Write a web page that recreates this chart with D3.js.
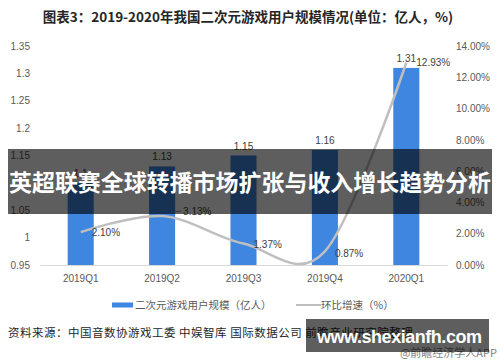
<!DOCTYPE html>
<html>
<head>
<meta charset="utf-8">
<script src="https://cdn.jsdelivr.net/npm/d3@7/dist/d3.min.js"></script>
<style>
  html, body { margin: 0; padding: 0; background: #fff; }
  svg { display: block; font-family: "Liberation Sans", "Noto Sans CJK SC", sans-serif; }
</style>
</head>
<body>
<div id="chart"></div>
<script>
// data
var quarters = ["2019Q1", "2019Q2", "2019Q3", "2019Q4", "2020Q1"];
var users = [1.1, 1.13, 1.15, 1.16, 1.31];          // 亿人
var growth = [2.10, 3.13, 1.37, 0.87, 12.93];       // %
var leftTicks = [0.95, 1, 1.05, 1.1, 1.15, 1.2, 1.25, 1.3, 1.35];
var rightTicks = [0, 2, 4, 6, 8, 10, 12, 14];

var width = 500, height = 362;
var svg = d3.select("#chart").append("svg")
    .attr("width", width)
    .attr("height", height);

var x = d3.scaleBand().domain(quarters).range([40, 447]).paddingInner(0.68).paddingOuter(0.34);
var yL = d3.scaleLinear().domain([0.95, 1.35]).range([265, 46]);
var yR = d3.scaleLinear().domain([0, 14]).range([265, 46]);

// title
svg.append("text")
    .attr("x", 248).attr("y", 22)
    .attr("text-anchor", "middle")
    .style("font-family", "'Noto Sans CJK SC', sans-serif")
    .style("font-weight", "bold")
    .style("font-size", "13.5px")
    .style("fill", "#262626")
    .text("图表3：2019-2020年我国二次元游戏用户规模情况(单位：亿人，%)");

// left axis
var axL = svg.append("g").attr("transform", "translate(32,0)")
    .call(d3.axisLeft(yL).tickValues(leftTicks).tickSize(0).tickPadding(2)
        .tickFormat(function (d) { return +d.toFixed(2); }));
axL.select(".domain").remove();
axL.selectAll("text").style("font-size", "10px").style("fill", "#595959")
    .style("font-family", "'Liberation Sans', sans-serif");

// right axis
var axR = svg.append("g").attr("transform", "translate(454,0)")
    .call(d3.axisRight(yR).tickValues(rightTicks).tickSize(0).tickPadding(2)
        .tickFormat(function (d) { return d.toFixed(2) + "%"; }));
axR.select(".domain").remove();
axR.selectAll("text").style("font-size", "10px").style("fill", "#595959")
    .style("font-family", "'Liberation Sans', sans-serif");

// bottom axis
var axB = svg.append("g").attr("transform", "translate(0,265)")
    .call(d3.axisBottom(x).tickSize(0).tickPadding(10));
axB.select(".domain").attr("stroke", "#d9d9d9");
axB.selectAll("text").style("font-size", "10px").style("fill", "#595959")
    .style("font-family", "'Liberation Sans', sans-serif");

// bars
svg.selectAll(".bar")
    .data(users)
    .enter().append("rect")
    .attr("class", "bar")
    .attr("x", function (d, i) { return x(quarters[i]); })
    .attr("width", x.bandwidth())
    .attr("y", function (d) { return yL(d); })
    .attr("height", function (d) { return yL(0.95) - yL(d); })
    .style("fill", "#3f86e0");

svg.selectAll(".barLabel")
    .data(users)
    .enter().append("text")
    .attr("class", "barLabel")
    .attr("x", function (d, i) { return x(quarters[i]) + x.bandwidth() / 2; })
    .attr("y", function (d) { return yL(d) - 6; })
    .attr("text-anchor", "middle")
    .style("font-size", "10px")
    .style("fill", "#404040")
    .text(function (d) { return d; });

// growth line
var pts = growth.map(function (d, i) {
    return [x(quarters[i]) + x.bandwidth() / 2, yR(d)];
});
svg.append("path")
    .datum(pts)
    .attr("d", d3.line().curve(d3.curveCatmullRom.alpha(0)))
    .style("fill", "none")
    .style("stroke", "#bfbfbf")
    .style("stroke-width", 2.5);

var lblOff = [[11, 0], [21, -5], [10, 1], [10, 2], [10, 0]];
svg.selectAll(".lineLabel")
    .data(growth)
    .enter().append("text")
    .attr("class", "lineLabel")
    .attr("x", function (d, i) { return pts[i][0] + lblOff[i][0]; })
    .attr("y", function (d, i) { return pts[i][1] + lblOff[i][1] + 3.5; })
    .style("font-size", "10px")
    .style("fill", "#404040")
    .text(function (d) { return d.toFixed(2) + "%"; });
// leader for 3.13%
svg.append("line")
    .attr("x1", pts[1][0] + 12).attr("y1", pts[1][1] - 4)
    .attr("x2", pts[1][0] + 19).attr("y2", pts[1][1] - 5)
    .style("stroke", "#7f7f7f").style("stroke-width", 0.8);

// legend
var lg = svg.append("g").style("font-family", "'Noto Sans CJK SC', sans-serif")
    .style("font-size", "10.5px").style("fill", "#595959");
lg.append("rect").attr("x", 112).attr("y", 302.5).attr("width", 21).attr("height", 5).style("fill", "#3f86e0");
lg.append("text").attr("x", 135).attr("y", 309).text("二次元游戏用户规模（亿人）");
lg.append("line").attr("x1", 296).attr("x2", 321).attr("y1", 305).attr("y2", 305)
    .style("stroke", "#bfbfbf").style("stroke-width", 2);
lg.append("text").attr("x", 321).attr("y", 309).text("环比增速（%）");

// source
svg.append("text")
    .attr("x", 8).attr("y", 337)
    .style("font-family", "'Noto Sans CJK SC', sans-serif")
    .style("font-size", "11.5px")
    .style("letter-spacing", "0.5px")
    .style("fill", "#262626")
    .text("资料来源：中国音数协游戏工委 中娱智库 国际数据公司 前瞻产业研究院整理");
svg.append("text")
    .attr("x", 497).attr("y", 357)
    .attr("text-anchor", "end")
    .style("font-family", "'Noto Sans CJK SC', sans-serif")
    .style("font-size", "11px")
    .style("fill", "#7f7f7f")
    .text("@前瞻经济学人APP");

// overlay banner
svg.append("rect").attr("x", 8).attr("y", 149).attr("width", 484).attr("height", 65)
    .style("fill", "rgba(0,0,0,0.63)");
svg.append("text")
    .attr("x", 9).attr("y", 191)
    .attr("textLength", 482)
    .attr("lengthAdjust", "spacingAndGlyphs")
    .style("font-family", "'Noto Sans CJK SC', sans-serif")
    .style("font-weight", "bold")
    .style("font-size", "23px")
    .style("fill", "#fff")
    .text("英超联赛全球转播市场扩张与收入增长趋势分析");

// bottom-right overlay
svg.append("rect").attr("x", 306).attr("y", 319).attr("width", 183).attr("height", 33)
    .style("fill", "rgba(0,0,0,0.63)");
svg.append("text")
    .attr("x", 317).attr("y", 343)
    .attr("textLength", 165)
    .style("font-family", "'Liberation Sans', sans-serif")
    .style("font-weight", "bold")
    .style("font-size", "18px")
    .style("fill", "#fff")
    .text("www.shexianfh.com");
</script>
</body>
</html>
